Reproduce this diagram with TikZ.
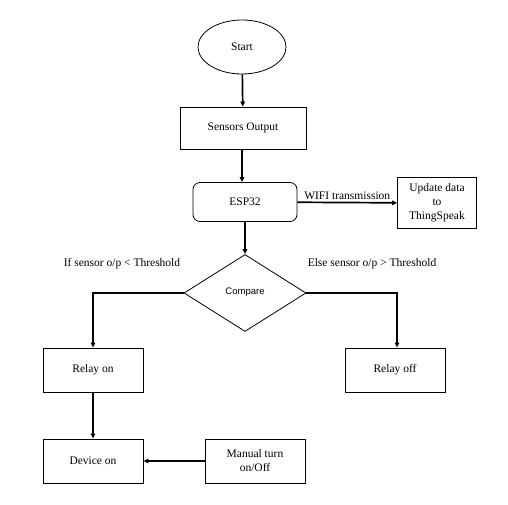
\documentclass[tikz,border=0pt]{standalone}
\usepackage{fontspec}
\setmainfont{Liberation Serif}
\newfontfamily\labelsans{Liberation Sans}
\usepackage{xcolor}
\usepackage{tikz}
\usetikzlibrary{shapes,arrows.meta,positioning,calc}

\tikzset{
  procbox/.style={draw, line width=0.8pt, minimum width=100pt, minimum height=44pt, align=center, font=\fontsize{11.5}{14}\selectfont},
  flowline/.style={line width=1.7pt, -{Triangle[length=5pt,width=4.5pt]}},
  sidelabel/.style={font=\fontsize{11.5}{14}\selectfont}
}

\begin{document}
\begin{tikzpicture}[x=1pt,y=-1pt]
\useasboundingbox[fill=white] (0,0) rectangle (508,505);
% Start
\node[draw, ellipse, line width=0.8pt, minimum width=88pt, minimum height=54pt, font=\fontsize{11.5}{14}\selectfont] (start) at (242,47) {Start};
% Sensors and ESP32
\node[procbox, minimum width=126pt, minimum height=42pt] (sensors) at (243,128) {Sensors Output};
\node[procbox, rounded corners=7pt, minimum width=104pt, minimum height=39pt] (esp) at (245,202) {ESP32};
\node[procbox, minimum width=79pt, minimum height=51pt, inner sep=2pt] (cloud) at (437,203) {Update data\\to\\ThingSpeak};
% Decision
\node[draw, diamond, line width=0.8pt, minimum width=122pt, minimum height=77pt, inner sep=0pt, font=\labelsans\fontsize{9.5}{11}\selectfont] (cmp) at (245,293) {\raisebox{4pt}{Compare}};
\node[sidelabel] (iflabel) at (122,264) {If sensor o/p < Threshold};
\node[sidelabel] (elselabel) at (372,264) {Else sensor o/p > Threshold};
% Relays and device
\node[procbox] (relon) at (93,370) {Relay on};
\node[procbox] (reloff) at (395,370) {Relay off};
\node[procbox] (devon) at (93,461) {Device on};
\node[procbox] (manual) at (255,461) {Manual turn\\on/Off};

\draw[flowline] (start) -- (sensors);
\draw[flowline] (sensors.south -| start) -- (esp.north -| start);
\draw[flowline] (esp) -- node[above, sidelabel, yshift=-1pt] (wifi) {WIFI transmission} (cloud);
\draw[flowline] (esp) -- (cmp);
\draw[flowline] (cmp.west) -| (relon.north);
\draw[flowline] (cmp.east) -| ([xshift=2pt]reloff.north);
\draw[flowline] (relon) -- (devon);
\draw[flowline] (manual) -- (devon);
\end{tikzpicture}
\end{document}
